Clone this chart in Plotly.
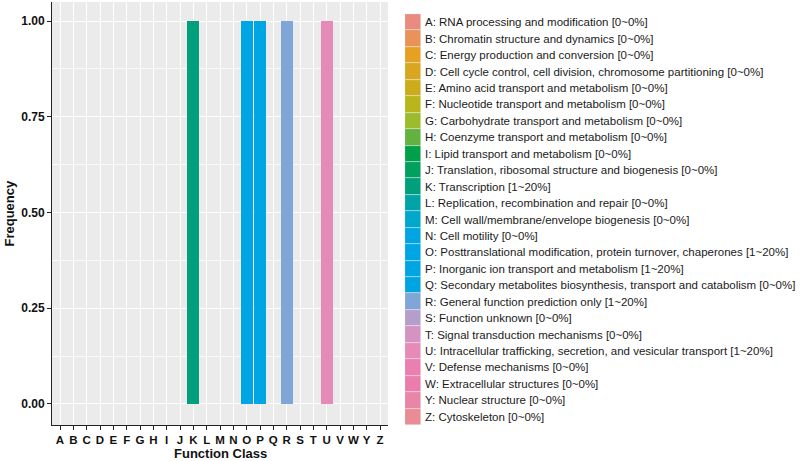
import plotly.graph_objects as go

categories = ["A","B","C","D","E","F","G","H","I","J","K","L","M","N","O","P","Q","R","S","T","U","V","W","Y","Z"]
frequency = [0,0,0,0,0,0,0,0,0,0,1,0,0,0,1,1,0,1,0,0,1,0,0,0,0]
descriptions = [
    "RNA processing and modification",
    "Chromatin structure and dynamics",
    "Energy production and conversion",
    "Cell cycle control, cell division, chromosome partitioning",
    "Amino acid transport and metabolism",
    "Nucleotide transport and metabolism",
    "Carbohydrate transport and metabolism",
    "Coenzyme transport and metabolism",
    "Lipid transport and metabolism",
    "Translation, ribosomal structure and biogenesis",
    "Transcription",
    "Replication, recombination and repair",
    "Cell wall/membrane/envelope biogenesis",
    "Cell motility",
    "Posttranslational modification, protein turnover, chaperones",
    "Inorganic ion transport and metabolism",
    "Secondary metabolites biosynthesis, transport and catabolism",
    "General function prediction only",
    "Function unknown",
    "Signal transduction mechanisms",
    "Intracellular trafficking, secretion, and vesicular transport",
    "Defense mechanisms",
    "Extracellular structures",
    "Nuclear structure",
    "Cytoskeleton",
]
ranges = ["0~0%","0~0%","0~0%","0~0%","0~0%","0~0%","0~0%","0~0%","0~0%","0~0%",
          "1~20%","0~0%","0~0%","0~0%","1~20%","1~20%","0~0%","1~20%","0~0%","0~0%",
          "1~20%","0~0%","0~0%","0~0%","0~0%"]
colors = ["#E98B7E","#E9935B","#E6A123","#D9A620","#CDAC1B","#B8B51D","#9CBB2D","#62B23F",
          "#00A04A","#00A05E","#00A07D","#00A3A6","#00A8CC","#00A5E2","#00A5E5","#00A5E3",
          "#00A4E0","#80A6D8","#B39ECC","#D493C2","#E68BB8","#EA7FB0","#EA7DAC","#E986A7","#E98C96"]

legend_labels = [f"{c}: {d} [{r}]" for c, d, r in zip(categories, descriptions, ranges)]

W, H = 800, 461
px = lambda x: x / W
py = lambda y: 1 - y / H

fig = go.Figure()
fig.add_trace(go.Bar(x=categories, y=frequency, marker=dict(color=colors, line=dict(width=0)),
                     width=0.9, showlegend=False, xaxis="x", yaxis="y"))
fig.add_trace(go.Bar(y=legend_labels, x=[1]*len(legend_labels), orientation="h", width=1,
                     marker=dict(color=colors, line=dict(color="rgba(255,255,255,0.6)", width=0.6)),
                     showlegend=False, xaxis="x2", yaxis="y2"))

fig.update_layout(
    width=W, height=H,
    margin=dict(l=0, r=0, t=0, b=0),
    paper_bgcolor="white",
    plot_bgcolor="#EBEBEB",
    bargap=0,
    xaxis=dict(domain=[px(52), px(388)], type="category", range=[-0.6, 24.6],
               tickmode="linear", tick0=0, dtick=1,
               showgrid=True, gridcolor="white", gridwidth=1,
               showline=True, linecolor="#222222", linewidth=1,
               ticks="outside", ticklen=4, tickcolor="#222222", tickwidth=1,
               tickfont=dict(family="Liberation Sans, Arial", size=11.5, color="#111111", weight="bold"),
               zeroline=False, automargin=False),
    yaxis=dict(domain=[py(425), py(2)], range=[-0.055, 1.05],
               tickmode="array", tickvals=[0, 0.25, 0.5, 0.75, 1.0],
               ticktext=["0.00", "0.25", "0.50", "0.75", "1.00"],
               showgrid=True, gridcolor="white", gridwidth=1,
               minor=dict(tickmode="array", tickvals=[0.125, 0.375, 0.625, 0.875],
                          showgrid=True, gridcolor="rgba(255,255,255,0.7)", gridwidth=0.5, ticks=""),
               showline=True, linecolor="#222222", linewidth=1,
               ticks="outside", ticklen=4, tickcolor="#222222", tickwidth=1,
               tickfont=dict(family="Liberation Sans, Arial", size=12, color="#111111", weight="bold"),
               zeroline=False, automargin=False),
    xaxis2=dict(domain=[px(405), px(421)], range=[0, 1], visible=False, anchor="y2"),
    yaxis2=dict(domain=[py(425), py(14)], type="category", range=[24.5, -0.5],
                anchor="x2", side="right", showgrid=False, zeroline=False, showline=False,
                ticks="", ticklabelstandoff=3,
                tickfont=dict(family="Liberation Sans, Arial", size=11.5, color="#1a1a1a"),
                automargin=False),
    annotations=[
        dict(text="<b>Frequency</b>", x=px(9), y=py(213.5), xref="paper", yref="paper",
             showarrow=False, textangle=-90, xanchor="center", yanchor="middle",
             font=dict(family="Liberation Sans, Arial", size=13, color="#111111")),
        dict(text="<b>Function Class</b>", x=px(220), y=py(453), xref="paper", yref="paper",
             showarrow=False, xanchor="center", yanchor="middle",
             font=dict(family="Liberation Sans, Arial", size=13, color="#111111")),
    ],
)

fig.write_html("out.html", config={"displayModeBar": False},
               post_script="document.body.style.margin='0';document.body.style.padding='0';window.dispatchEvent(new Event('resize'));")
